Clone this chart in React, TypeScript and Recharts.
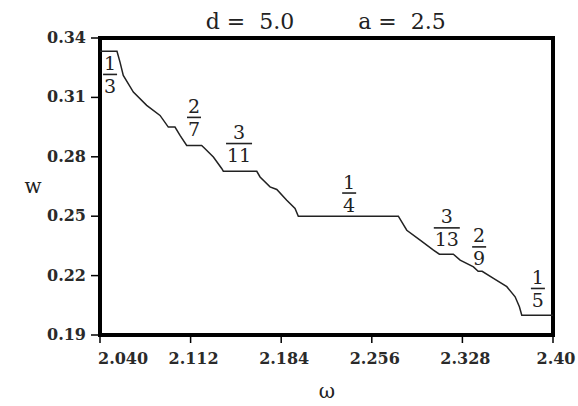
import React from 'react';
import { ComposedChart, Line, Scatter, XAxis, YAxis, ReferenceArea } from 'recharts';

// Staircase curve w(ω)
const curveOmega = [
  2.040, 2.0535, 2.0559, 2.0585, 2.0665, 2.0771, 2.0877, 2.0943, 2.0996, 2.1036,
  2.1089, 2.1208, 2.1235, 2.1301, 2.1367, 2.1380, 2.1646, 2.1672, 2.1751, 2.1805,
  2.1884, 2.1950, 2.1976, 2.2771, 2.2798, 2.2838, 2.2944, 2.3050, 2.3097, 2.3208,
  2.3262, 2.3368, 2.3405, 2.3437, 2.3527, 2.3633, 2.3699, 2.3733, 2.3752, 2.40,
];
const curveW = [
  0.3333, 0.3333, 0.3278, 0.3211, 0.3127, 0.3060, 0.3009, 0.2950, 0.2950, 0.2908,
  0.2857, 0.2857, 0.2841, 0.2799, 0.2741, 0.2727, 0.2727, 0.2698, 0.2648, 0.2635,
  0.2581, 0.2539, 0.2500, 0.2500, 0.2471, 0.2429, 0.2379, 0.2329, 0.2308, 0.2308,
  0.2278, 0.2244, 0.2222, 0.2222, 0.2186, 0.2144, 0.2093, 0.2043, 0.2000, 0.2000,
];

// Plateau labels (fractions)
const fracNum = ['1', '2', '3', '1', '3', '2', '1'];
const fracDen = ['3', '7', '11', '4', '13', '9', '5'];
const fracOmega = [2.0480, 2.1147, 2.1505, 2.2380, 2.3156, 2.3413, 2.3880];
const fracW = [0.3216, 0.2999, 0.2867, 0.2617, 0.2441, 0.2345, 0.2135];

const xTicks = [2.040, 2.112, 2.184, 2.256, 2.328, 2.40];
const xTickLabels = ['2.040', '2.112', '2.184', '2.256', '2.328', '2.40'];
const yTicks = [0.19, 0.22, 0.25, 0.28, 0.31, 0.34];
const yTickLabels = ['0.19', '0.22', '0.25', '0.28', '0.31', '0.34'];

const titleLeft = 'd =  5.0';
const titleRight = 'a =  2.5';
const xLabel = 'ω';
const yLabel = 'w';

const curveData = curveOmega.map((x, i) => ({ x, y: curveW[i] }));
const fracData = fracOmega.map((x, i) => ({ x, y: fracW[i], num: fracNum[i], den: fracDen[i] }));

const SERIF = '"DejaVu Serif", "Liberation Serif", serif';

const XTick = (props: any) => {
  const { x, y, payload, index } = props;
  const i = xTicks.indexOf(payload.value);
  const label = i >= 0 ? xTickLabels[i] : String(payload.value);
  const first = index === 0;
  return (
    <text
      x={first ? x - 2 : x + 3}
      y={y + 19}
      textAnchor={first ? 'start' : 'middle'}
      fontFamily={SERIF}
      fontSize={16}
      fontWeight="bold"
      fill="#2a2a2a"
    >
      {label}
    </text>
  );
};

const YTick = (props: any) => {
  const { x, y, payload } = props;
  const i = yTicks.indexOf(payload.value);
  const label = i >= 0 ? yTickLabels[i] : String(payload.value);
  return (
    <text x={x} y={y + 5} textAnchor="end" fontFamily={SERIF} fontSize={16} fontWeight="bold" fill="#2a2a2a">
      {label}
    </text>
  );
};

const FracShape = (props: any) => {
  const { cx, cy, payload } = props;
  if (cx == null || cy == null) return null;
  const wide = payload.den.length > 1 || payload.num.length > 1;
  const hw = wide ? 13 : 7;
  return (
    <g>
      <text x={cx} y={cy - 4.5} textAnchor="middle" fontFamily={SERIF} fontSize={19} fill="#222">
        {payload.num}
      </text>
      <line x1={cx - hw} x2={cx + hw} y1={cy} y2={cy} stroke="#222" strokeWidth={1.6} />
      <text x={cx} y={cy + 18.5} textAnchor="middle" fontFamily={SERIF} fontSize={19} fill="#222">
        {payload.den}
      </text>
    </g>
  );
};

export default function App() {
  return (
    <div style={{ position: 'absolute', left: 0, top: 0, width: 578, height: 406, background: '#fff' }}>
      <ComposedChart
        width={578}
        height={406}
        margin={{ top: 38, right: 25, bottom: 21, left: 40 }}
      >
        <XAxis
          dataKey="x"
          type="number"
          domain={[2.04, 2.4]}
          ticks={xTicks}
          axisLine={false}
          tickLine={{ stroke: '#000', strokeWidth: 1.5 }}
          tickSize={8}
          tickMargin={2}
          height={50}
          tick={<XTick />}
          allowDataOverflow
        />
        <YAxis
          dataKey="y"
          type="number"
          domain={[0.19, 0.34]}
          ticks={yTicks}
          axisLine={false}
          tickLine={{ stroke: '#000', strokeWidth: 1.5 }}
          tickSize={9}
          tickMargin={5}
          width={60}
          tick={<YTick />}
          allowDataOverflow
        />
        <ReferenceArea
          x1={2.04}
          x2={2.4}
          y1={0.19}
          y2={0.34}
          fill="none"
          stroke="#000"
          strokeWidth={4}
          fillOpacity={0}
        />
        <Line
          data={curveData}
          dataKey="y"
          type="linear"
          stroke="#222"
          strokeWidth={1.5}
          dot={false}
          isAnimationActive={false}
        />
        <Scatter data={fracData} dataKey="y" shape={<FracShape />} isAnimationActive={false} />
      </ComposedChart>
      <svg
        width={578}
        height={406}
        style={{ position: 'absolute', left: 0, top: 0, pointerEvents: 'none' }}
      >
        <text x={250} y={29} textAnchor="middle" fontFamily={SERIF} fontSize={22} fill="#222" style={{ whiteSpace: 'pre' }}>
          {titleLeft}
        </text>
        <text x={402} y={29} textAnchor="middle" fontFamily={SERIF} fontSize={22} fill="#222" style={{ whiteSpace: 'pre' }}>
          {titleRight}
        </text>
        <text x={33} y={193} textAnchor="middle" fontFamily={SERIF} fontSize={20} fill="#222">
          {yLabel}
        </text>
        <text x={327} y={398} textAnchor="middle" fontFamily={SERIF} fontSize={20} fill="#222">
          {xLabel}
        </text>
      </svg>
    </div>
  );
}
